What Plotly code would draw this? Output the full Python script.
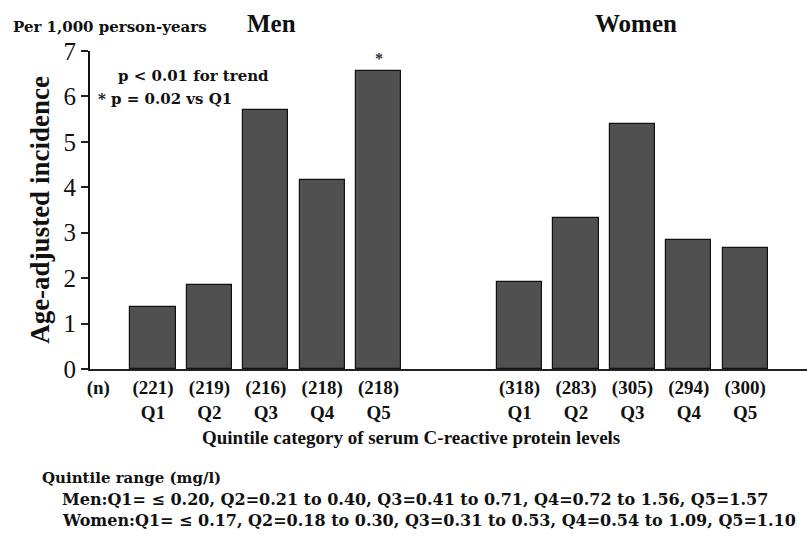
import plotly.graph_objects as go

# ---- data ----
quintiles = ["Q1", "Q2", "Q3", "Q4", "Q5"]
men_rates = [1.36, 1.85, 5.71, 4.15, 6.56]
women_rates = [1.91, 3.33, 5.39, 2.83, 2.66]
men_n = [221, 219, 216, 218, 218]
women_n = [318, 283, 305, 294, 300]
y_ticks = [0, 1, 2, 3, 4, 5, 6, 7]

men_range = "Men:Q1= \u2264 0.20, Q2=0.21 to 0.40, Q3=0.41 to 0.71, Q4=0.72 to 1.56, Q5=1.57"
women_range = "Women:Q1= \u2264 0.17, Q2=0.18 to 0.30, Q3=0.31 to 0.53, Q4=0.54 to 1.09, Q5=1.10"

# ---- layout geometry ----
W, H = 807, 536
L, R, T, B = 90, 0, 51, 167
PH = H - T - B
GAP = 6.5  # offset of the women group on the x axis
men_x = [i for i in range(len(quintiles))]
women_x = [i + GAP for i in range(len(quintiles))]

FONT = "Liberation Serif"
WIDE = "DejaVu Serif"
BAR = "#505050"

def py(p):
    return (H - B - p) / PH

def px(p):
    return (p - L) / (W - L - R)

fig = go.Figure()
for xs, ys in ((men_x, men_rates), (women_x, women_rates)):
    fig.add_trace(go.Bar(
        x=xs, y=ys, width=0.8,
        marker=dict(color=BAR, line=dict(color="#111111", width=1.2)),
        showlegend=False, hoverinfo="y",
    ))

tickvals = [-0.97] + men_x + women_x
ticktext = ["(n)"] + [f"({n})<br>{q}" for n, q in zip(men_n, quintiles)] + \
           [f"({n})<br>{q}" for n, q in zip(women_n, quintiles)]

fig.update_layout(
    width=W, height=H,
    margin=dict(l=L, r=R, t=T, b=B, pad=0),
    paper_bgcolor="white", plot_bgcolor="white",
    font=dict(family=FONT, color="#111111"),
    bargap=0,
    xaxis=dict(
        range=[-1.117, 11.596], tickvals=tickvals, ticktext=ticktext,
        showline=True, linecolor="#222222", linewidth=2,
        showgrid=False, zeroline=False, ticks="",
        tickfont=dict(family=FONT, size=19, color="#111111", weight="bold"),
    ),
    yaxis=dict(
        range=[0, 7], tickvals=y_ticks, showline=True, linecolor="#111111",
        linewidth=2, ticks="outside", ticklen=7, tickwidth=1.5, tickcolor="#222222",
        showgrid=False, zeroline=False,
        tickfont=dict(family=FONT, size=25, color="#111111"),
        title=dict(text="Age-adjusted incidence", standoff=6,
                   font=dict(family=FONT, size=27, color="#111111", weight="bold")),
    ),
)

def note(text, x, y, size, xanchor="left", family=FONT):
    fig.add_annotation(text=text, xref="paper", yref="paper", x=px(x), y=py(y),
                       xanchor=xanchor, yanchor="middle", showarrow=False,
                       font=dict(family=family, size=size, color="#111111", weight="bold"))

note("Per 1,000 person-years", 11, 27, 15, family=WIDE)
note("Men", 271, 24, 25, "center")
note("Women", 636, 24, 25, "center")
note("p < 0.01 for trend", 116, 76, 15, family=WIDE)
note("* p = 0.02 vs Q1", 96, 99, 15, family=WIDE)
note("Quintile category of serum C-reactive protein levels", 411, 437, 19, "center")
note("Quintile range (mg/l)", 40, 478, 15, family=WIDE)
note(men_range, 60, 499, 16, family=WIDE)
note(women_range, 60, 520, 16, family=WIDE)

fig.add_annotation(text="*", x=men_x[4], y=men_rates[4], xref="x", yref="y",
                   yanchor="bottom", yshift=2, showarrow=False,
                   font=dict(family=FONT, size=16, color="#333333", weight="bold"))

fig.write_html("out.html", config={"displayModeBar": False},
               post_script="document.body.style.margin='0';")
